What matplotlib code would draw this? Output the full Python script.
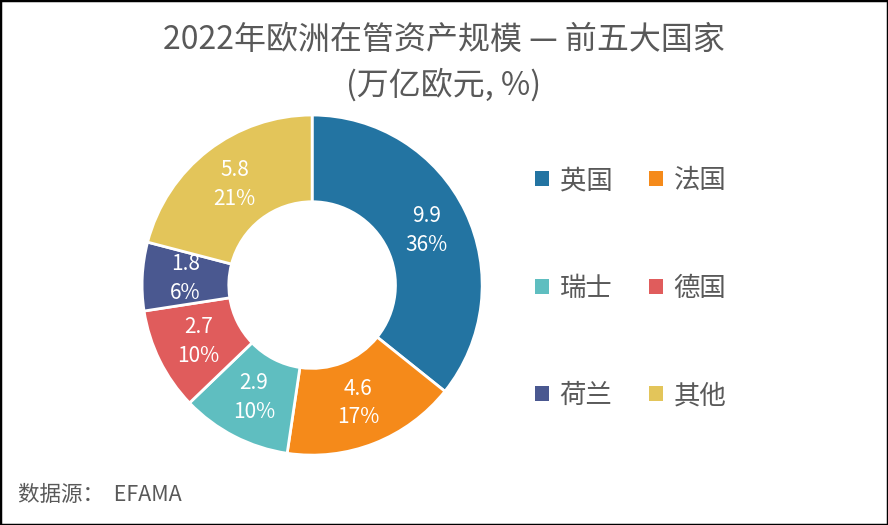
import numpy as np
import matplotlib.pyplot as plt
from matplotlib.patches import Patch, Rectangle

plt.rcParams['font.family'] = ['Noto Sans CJK SC', 'DejaVu Sans']

countries = ['英国', '法国', '瑞士', '德国', '荷兰', '其他']
aum = [9.9, 4.6, 2.9, 2.7, 1.8, 5.8]
colors = ['#2374A2', '#F58A1A', '#5FBEC0', '#E05C5C', '#4A5890', '#E3C55A']

fig = plt.figure(figsize=(8.88, 5.25), dpi=100)
fig.patches.append(Rectangle((0, 0), 1, 1, transform=fig.transFigure,
                             fill=False, edgecolor='black', linewidth=2.5))

ax = fig.add_axes([0.16, 0.133, 0.383, 0.648])
total = sum(aum)

wedges = ax.pie(aum, colors=colors, startangle=90, counterclock=False, radius=1,
                wedgeprops=dict(width=0.51, edgecolor='white', linewidth=2))[0]
# value + share labels in the middle of the ring
for w, v in zip(wedges, aum):
    ang = np.deg2rad((w.theta1 + w.theta2) / 2)
    r = 0.745
    ax.text(r * np.cos(ang), r * np.sin(ang), f'{v}\n{v / total * 100:.0f}%',
            ha='center', va='center', color='white', fontsize=15, linespacing=1.4)
ax.set_xlim(-1, 1)
ax.set_ylim(-1, 1)
ax.axis('off')

fig.text(0.5, 0.924, '2022年欧洲在管资产规模 — 前五大国家', ha='center', va='center',
         fontsize=23, color='#595959')
fig.text(0.5, 0.838, '(万亿欧元, %)', ha='center', va='center',
         fontsize=23, color='#595959')

# legend filled row by row: 2 columns
order = [0, 2, 4, 1, 3, 5]
handles = [Patch(facecolor=colors[i], edgecolor='none') for i in order]
labels = [countries[i] for i in order]
fig.legend(handles, labels, ncol=2, loc='center left', bbox_to_anchor=(0.603, 0.451),
           frameon=False, fontsize=19, labelcolor='#595959', handlelength=0.5,
           handleheight=0.5, handletextpad=0.42, labelspacing=3.05, columnspacing=1.4,
           borderpad=0, borderaxespad=0)

fig.text(0.02, 0.057, '数据源：  EFAMA', ha='left', va='center', fontsize=15.5, color='#595959')

fig.savefig('out.png', dpi=100)
